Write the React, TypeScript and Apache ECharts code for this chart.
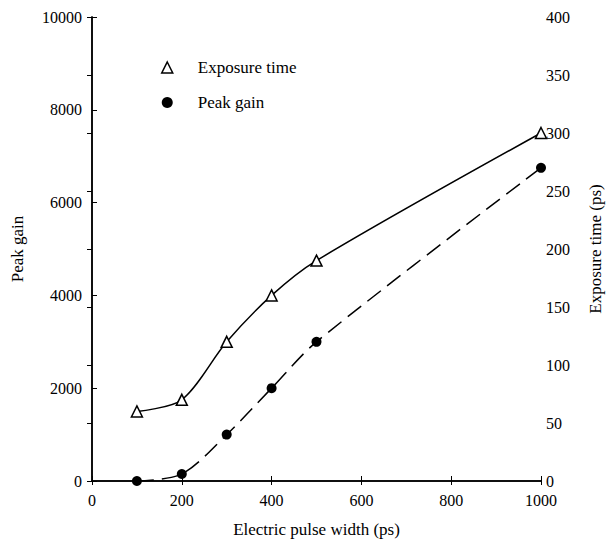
import React, { useEffect, useRef } from "react";
import * as echarts from "echarts";

const pulseWidths = [100, 200, 300, 400, 500, 1000];
const exposureTime = [60, 70, 120, 160, 190, 300];
const peakGain = [0, 150, 1000, 2000, 3000, 6750];

const FONT = "'Liberation Serif', 'DejaVu Serif', serif";

export default function App() {
  const ref = useRef<HTMLDivElement>(null);
  useEffect(() => {
    if (!ref.current) return;
    const chart = echarts.init(ref.current, undefined, { renderer: "svg" });
    const axisLine = { show: true, lineStyle: { color: "#000", width: 1.5 } };
    const axisLabel = { color: "#000", fontFamily: FONT, fontSize: 16, formatter: (v: number) => String(v) };
    const nameStyle = { fontFamily: FONT, fontSize: 17, color: "#000" };
    chart.setOption({
      animation: false,
      backgroundColor: "#fff",
      textStyle: { fontFamily: FONT, color: "#000" },
      grid: { left: 92, right: 65, top: 17, bottom: 61, outerBoundsMode: "none", containLabel: false },
      legend: {
        orient: "vertical",
        left: 156,
        top: 54,
        itemGap: 18,
        itemWidth: 11,
        itemHeight: 11,
        textStyle: { fontFamily: FONT, fontSize: 17, color: "#000", padding: [0, 0, 0, 20] },
        data: [
          { name: "Exposure time", icon: "triangle", itemStyle: { color: "#fff", borderColor: "#000", borderWidth: 1.5 } },
          { name: "Peak gain", icon: "circle", itemStyle: { color: "#000" } },
        ],
      },
      xAxis: [
        {
          type: "value",
          min: 0,
          max: 1000,
          interval: 200,
          name: "Electric pulse width (ps)",
          nameLocation: "middle",
          nameGap: 40,
          nameTextStyle: nameStyle,
          axisLine,
          axisTick: { show: true, inside: true, length: 5, lineStyle: { color: "#000" } },
          axisLabel: { ...axisLabel, margin: 11 },
          splitLine: { show: false },
        },
        {
          type: "value",
          position: "top",
          min: 0,
          max: 1000,
          interval: 200,
          axisLine,
          axisTick: { show: true, inside: true, length: 4, lineStyle: { color: "#000" } },
          axisLabel: { show: false },
          splitLine: { show: false },
        },
      ],
      yAxis: [
        {
          type: "value",
          min: 0,
          max: 10000,
          interval: 2000,
          name: "Peak gain",
          nameLocation: "middle",
          nameGap: 66,
          nameRotate: 90,
          nameTextStyle: nameStyle,
          axisLine,
          axisTick: { show: true, inside: true, length: 5, lineStyle: { color: "#000" } },
          axisLabel: { ...axisLabel, margin: 10 },
          splitLine: { show: false },
        },
        {
          type: "value",
          position: "right",
          min: 0,
          max: 400,
          interval: 50,
          name: "Exposure time (ps)",
          nameLocation: "middle",
          nameGap: 46,
          nameRotate: 90,
          nameTextStyle: nameStyle,
          axisLine,
          axisTick: { show: true, inside: true, length: 5, lineStyle: { color: "#000" } },
          axisLabel: { ...axisLabel, margin: 5 },
          splitLine: { show: false },
        },
      ],
      series: [
        {
          name: "Exposure time",
          type: "line",
          yAxisIndex: 1,
          smooth: 0.3,
          data: pulseWidths.map((x, i) => [x, exposureTime[i]]),
          symbol: "triangle",
          symbolSize: 11,
          itemStyle: { color: "#fff", borderColor: "#000", borderWidth: 1.5 },
          lineStyle: { color: "#000", width: 1.5 },
          z: 3,
        },
        {
          name: "Peak gain",
          type: "line",
          yAxisIndex: 0,
          smooth: 0.3,
          data: pulseWidths.map((x, i) => [x, peakGain[i]]),
          symbol: "circle",
          symbolSize: 10,
          itemStyle: { color: "#000" },
          lineStyle: { color: "#000", width: 1.5, type: [17, 8] },
          z: 3,
        },
      ],
    });
    return () => chart.dispose();
  }, []);
  return <div ref={ref} style={{ position: "fixed", left: 0, top: 0, width: 606, height: 542 }} />;
}
